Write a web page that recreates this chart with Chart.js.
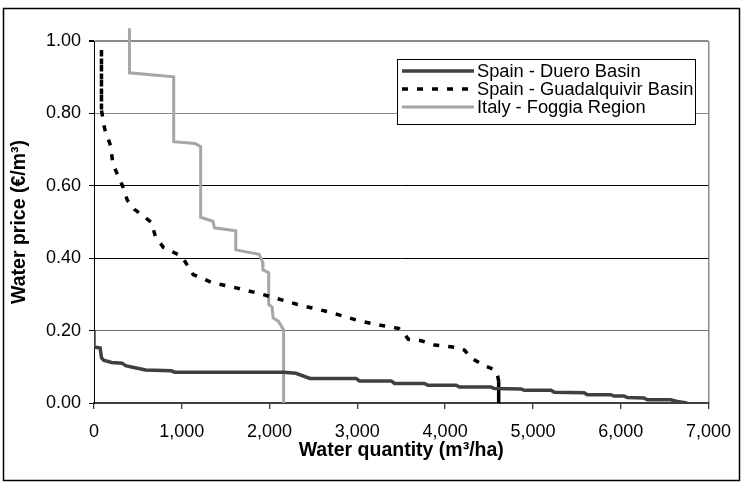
<!DOCTYPE html>
<html>
<head>
<meta charset="utf-8">
<script src="https://cdn.jsdelivr.net/npm/chart.js@4/dist/chart.umd.min.js"></script>
<style>
  html, body { margin: 0; padding: 0; background: #fff; }
  #wrap { width: 743px; height: 485px; }
</style>
</head>
<body>
<div id="wrap"><canvas id="c" width="743" height="485"></canvas></div>
<script>
// series (x = m3/ha, y = EUR/m3)
const dueroX = [0, 0, 70, 85, 110, 200, 320, 360, 440, 590, 880, 920, 2160, 2300, 2460, 2985, 3023, 3386, 3424, 3765, 3803, 4125, 4163, 4523, 4560, 4864, 4902, 5205, 5242, 5583, 5621, 5886, 5924, 6038, 6076, 6265, 6303, 6568, 6644, 6758];
const dueroY = [0.20, 0.155, 0.152, 0.125, 0.118, 0.112, 0.110, 0.103, 0.099, 0.091, 0.089, 0.085, 0.085, 0.082, 0.068, 0.068, 0.061, 0.061, 0.054, 0.054, 0.049, 0.049, 0.044, 0.044, 0.040, 0.039, 0.035, 0.035, 0.030, 0.028, 0.023, 0.023, 0.019, 0.019, 0.015, 0.014, 0.009, 0.009, 0.004, 0];

const guadX = [85, 85, 110, 130, 190, 215, 325, 380, 460, 650, 700, 790, 1000, 1130, 1350, 1620, 1890, 2050, 2320, 2700, 3020, 3280, 3470, 3540, 3580, 3727, 3880, 4106, 4220, 4300, 4447, 4561, 4598, 4610, 4610];
const guadY = [0.975, 0.81, 0.77, 0.75, 0.71, 0.66, 0.60, 0.56, 0.535, 0.50, 0.46, 0.43, 0.405, 0.355, 0.332, 0.318, 0.302, 0.291, 0.272, 0.25, 0.227, 0.214, 0.206, 0.19, 0.176, 0.172, 0.16, 0.154, 0.146, 0.124, 0.103, 0.092, 0.075, 0.06, 0];

const foggiaX = [404, 404, 908, 908, 1150, 1215, 1215, 1355, 1372, 1615, 1615, 1880, 1920, 1925, 1990, 1990, 2030, 2040, 2100, 2160, 2160];
const foggiaY = [1.035, 0.912, 0.901, 0.722, 0.717, 0.708, 0.513, 0.502, 0.484, 0.476, 0.423, 0.411, 0.39, 0.368, 0.36, 0.272, 0.265, 0.235, 0.226, 0.202, 0];

const seriesNames = ['Spain - Duero Basin', 'Spain - Guadalquivir Basin', 'Italy - Foggia Region'];
const xTicks = [0, 1000, 2000, 3000, 4000, 5000, 6000, 7000];
const yTicks = [0, 0.2, 0.4, 0.6, 0.8, 1.0];

const FONT = '"Liberation Sans", Arial, sans-serif';
const pts = (xs, ys) => xs.map((x, i) => ({ x, y: ys[i] }));

const GUAD_DASH = [6, 9];
const styles = [
  { color: '#404040', width: 3.5, dash: [] },
  { color: '#000000', width: 3.5, dash: GUAD_DASH },
  { color: '#a6a6a6', width: 3, dash: [] },
];

// grid lines in the original are not all the same shade
function yGridColor(v) {
  if (v >= 0.99) return '#8a8a8a';
  if (Math.abs(v - 0.8) < 0.01) return '#8a8a8a';
  if (Math.abs(v - 0.2) < 0.01) return '#707070';
  return '#000';
}

const frameAndLegend = {
  id: 'frameAndLegend',
  afterDraw(chart) {
    const c = chart.ctx;
    c.save();
    // outer frame
    c.strokeStyle = '#000';
    c.lineWidth = 1.5;
    c.strokeRect(3.5, 8.5, 736, 472);

    // legend box
    const lx = 397.5, ly = 59.5, lw = 298, lh = 65;
    c.fillStyle = '#fff';
    c.fillRect(lx, ly, lw, lh);
    c.lineWidth = 1;
    c.strokeRect(lx, ly, lw, lh);
    c.font = `18.3px ${FONT}`;
    c.textBaseline = 'middle';
    c.textAlign = 'left';
    seriesNames.forEach((name, i) => {
      const y = 71 + i * 18;
      const s = styles[i];
      c.strokeStyle = s.color;
      c.lineWidth = s.width;
      c.setLineDash(s.dash);
      c.beginPath();
      c.moveTo(402, y);
      c.lineTo(474, y);
      c.stroke();
      c.setLineDash([]);
      c.fillStyle = '#000';
      c.fillText(name, 477, y + 1);
    });
    c.restore();
  },
};

new Chart(document.getElementById('c'), {
  type: 'line',
  data: {
    datasets: [
      { label: seriesNames[0], data: pts(dueroX, dueroY), borderColor: styles[0].color, borderWidth: styles[0].width },
      {
        label: seriesNames[1], data: pts(guadX, guadY), borderColor: styles[1].color, borderWidth: styles[1].width,
        segment: { borderDash: ctx => ctx.p1DataIndex === guadX.length - 1 ? [] : GUAD_DASH },
      },
      { label: seriesNames[2], data: pts(foggiaX, foggiaY), borderColor: styles[2].color, borderWidth: styles[2].width, clip: false },
    ],
  },
  options: {
    responsive: false,
    animation: false,
    devicePixelRatio: 1,
    layout: { padding: { top: 41, right: 31, bottom: 0, left: 0 } },
    elements: { point: { radius: 0 }, line: { tension: 0, fill: false } },
    plugins: { legend: { display: false }, tooltip: { enabled: false } },
    scales: {
      x: {
        type: 'linear', min: 0, max: 7000,
        afterFit: s => { s.height = 82; },
        afterBuildTicks: s => { s.ticks = xTicks.map(v => ({ value: v })); },
        ticks: {
          color: '#000', padding: 12,
          font: { family: FONT, size: 18 },
          callback: v => v.toLocaleString('en-US'),
        },
        grid: {
          drawOnChartArea: true,
          color: ctx => ctx.tick && ctx.tick.value === 7000 ? '#8a8a8a' : 'rgba(0,0,0,0)',
          lineWidth: 1.5,
          tickColor: '#000', tickLength: 6, tickWidth: 1,
        },
        border: { display: true, color: '#404040', width: 2 },
        title: {
          display: true, text: 'Water quantity (m³/ha)', color: '#000',
          font: { family: FONT, size: 19.5, weight: 'bold' },
          padding: { top: 0, bottom: 23 },
        },
      },
      y: {
        type: 'linear', min: 0, max: 1,
        afterFit: s => { s.width = 94; },
        afterBuildTicks: s => { s.ticks = yTicks.map(v => ({ value: v })); },
        ticks: {
          color: '#000', padding: 8,
          font: { family: FONT, size: 18 },
          callback: v => Number(v).toFixed(2),
        },
        grid: {
          color: ctx => ctx.tick ? yGridColor(ctx.tick.value) : '#000',
          lineWidth: ctx => ctx.tick && ctx.tick.value >= 0.99 ? 2 : 1,
          tickColor: '#000', tickLength: 5,
        },
        border: { display: true, color: '#000', width: 1 },
        title: {
          display: true, text: 'Water price (€/m³)', color: '#000',
          font: { family: FONT, size: 19.5, weight: 'bold' },
          padding: { top: 8, bottom: 0 },
        },
      },
    },
  },
  plugins: [frameAndLegend],
});
</script>
</body>
</html>
